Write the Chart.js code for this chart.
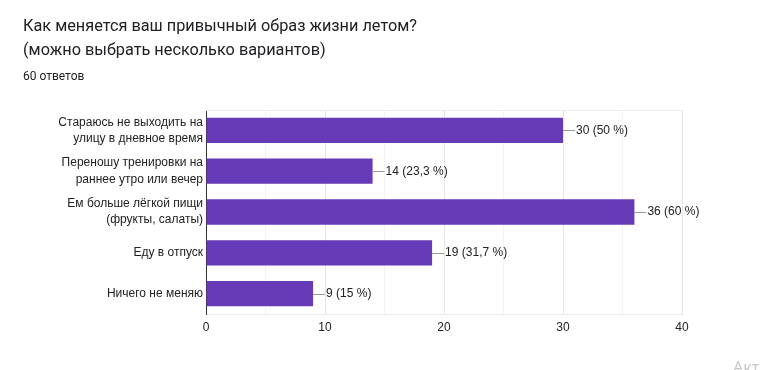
<!DOCTYPE html>
<html>
<head>
<meta charset="utf-8">
<script src="https://cdn.jsdelivr.net/npm/chart.js@4"></script>
<style>
    body { margin: 0; background: #fff; }
    #wrap { position: relative; width: 760px; height: 370px; overflow: hidden; }
    #chart-box { position: absolute; left: 0; top: 0; width: 760px; height: 370px; }
    .title { position: absolute; left: 23px; top: 14px; font: 16.3px Roboto, sans-serif; color: #202124; line-height: 24px; }
    .count { position: absolute; left: 23px; top: 69px; font: 12px Roboto, sans-serif; color: #202124; }
    .wm { position: absolute; left: 733px; top: 356px; font: 16px "Noto Sans", sans-serif; color: #c8c8c8; white-space: nowrap; }
</style>
</head>
<body>
<div id="wrap">
    <div id="chart-box"><canvas id="surveyChart"></canvas></div>
    <div class="title">Как меняется ваш привычный образ жизни летом?<br>(можно выбрать несколько вариантов)</div>
    <div class="count">60 ответов</div>
    <div class="wm">Активация Windows</div>
</div>
<script>
// data
const categories = [
    ['Стараюсь не выходить на', 'улицу в дневное время'],
    ['Переношу тренировки на', 'раннее утро или вечер'],
    ['Ем больше лёгкой пищи', '(фрукты, салаты)'],
    'Еду в отпуск',
    'Ничего не меняю'
];
const answers = [30, 14, 36, 19, 9];
const shares = ['50 %', '23,3 %', '60 %', '31,7 %', '15 %'];
const xTicks = [0, 10, 20, 30, 40];

document.addEventListener('DOMContentLoaded', () => {
    // leader lines + value labels at bar ends, plus the light top frame line
    const barLabels = {
        id: 'barLabels',
        beforeDatasetsDraw(chart) {
            const { ctx, chartArea } = chart;
            ctx.save();
            ctx.strokeStyle = '#ececec';
            ctx.lineWidth = 1;
            ctx.beginPath();
            ctx.moveTo(chartArea.left, chartArea.top + 0.5);
            ctx.lineTo(chartArea.right, chartArea.top + 0.5);
            ctx.stroke();
            ctx.restore();
        },
        afterDatasetsDraw(chart) {
            const { ctx } = chart;
            const meta = chart.getDatasetMeta(0);
            ctx.save();
            ctx.font = '12px "Liberation Sans", Arial, sans-serif';
            ctx.textBaseline = 'middle';
            meta.data.forEach((bar, i) => {
                const y = Math.round(bar.y) + 0.5;
                ctx.strokeStyle = '#999';
                ctx.lineWidth = 1;
                ctx.beginPath();
                ctx.moveTo(bar.x, y);
                ctx.lineTo(bar.x + 12, y);
                ctx.stroke();
                ctx.fillStyle = '#222';
                ctx.fillText(answers[i] + ' (' + shares[i] + ')', bar.x + 13, bar.y);
            });
            ctx.restore();
        }
    };

    const ctx = document.getElementById('surveyChart').getContext('2d');
    new Chart(ctx, {
        type: 'bar',
        data: {
            labels: categories,
            datasets: [{
                data: answers,
                backgroundColor: '#673ab7',
                categoryPercentage: 0.62,
                barPercentage: 1
            }]
        },
        options: {
            indexAxis: 'y',
            responsive: true,
            maintainAspectRatio: false,
            animation: false,
            layout: { padding: { top: 110, right: 78, left: 0, bottom: 0 } },
            plugins: {
                legend: { display: false },
                tooltip: { enabled: false }
            },
            scales: {
                x: {
                    min: xTicks[0],
                    max: xTicks[xTicks.length - 1],
                    afterFit: (scale) => { scale.height = 56; },
                    ticks: {
                        stepSize: 5,
                        autoSkip: false,
                        maxRotation: 0,
                        padding: 6,
                        color: '#222',
                        font: { family: '"Liberation Sans", Arial, sans-serif', size: 12 },
                        callback: (v) => xTicks.includes(v) ? v : ''
                    },
                    grid: {
                        drawTicks: false,
                        color: (c) => (c.tick && c.tick.value % 10 === 0) ? '#e6e6e6' : '#f3f3f3'
                    },
                    border: { color: '#ececec' }
                },
                y: {
                    afterFit: (scale) => { scale.width = 206; },
                    ticks: {
                        padding: 3,
                        color: '#222',
                        font: { family: '"Liberation Sans", Arial, sans-serif', size: 12, lineHeight: 1.35 }
                    },
                    grid: { display: false, drawTicks: false },
                    border: { color: '#333', width: 1 }
                }
            }
        },
        plugins: [barLabels]
    });
});
</script>
</body>
</html>
